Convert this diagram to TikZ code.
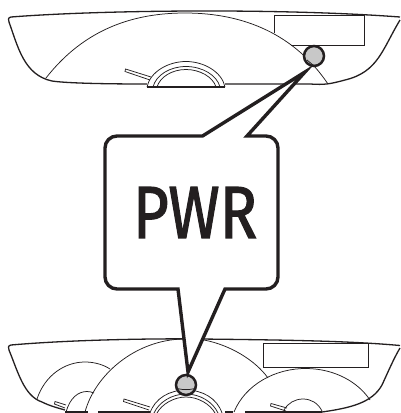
\documentclass[tikz,border=0pt]{standalone}
\usepackage{fontspec}
\setmainfont{Fira Sans}
\definecolor{ink}{HTML}{231F20}
\definecolor{btn}{HTML}{C8C8C8}
\tikzset{
  thinl/.style={draw=ink,line width=0.75pt},
  outl/.style={draw=ink,line width=1.3pt},
  btnc/.style={draw=ink,line width=2.5pt,fill=btn},
  bubble/.style={draw=ink,line width=3.4pt,fill=white,line join=miter}
}
\begin{document}
\begin{tikzpicture}[x=1pt,y=-1pt]
\useasboundingbox (0,0) rectangle (400,413);
% upper panel
\draw[outl] (11,17) .. controls (100,10) and (280,8) .. (400,17);
\draw[outl] (11,17) .. controls (8,17.5) and (8,20) .. (9,22) .. controls (18,47) and (24,75) .. (52,81)
  .. controls (65,83) and (100,84) .. (147,84);
\draw[outl] (225,84) -- (310,84) .. controls (325,85) and (330,84) .. (345,80)
  .. controls (378,72) and (382,50) .. (400,20);
\draw[thinl] (46,78) .. controls (85,28) and (135,13) .. (185,13) .. controls (245,13) and (295,35) .. (328,84);
\draw[thinl] (274,33) -- (274,15) -- (364,15) -- (364,45) -- (291,45);
\draw[btnc] (314,56) circle (10);
\draw[thinl] (307,60) -- (313,65);
% upper gauge
\draw[outl] (147,87) -- (225,87);
\draw[thinl] (147,87) .. controls (150,72) and (168,61.5) .. (186,61.5) .. controls (204,61.5) and (222,72) .. (225,87);
\draw[thinl] (153,87) .. controls (156,75) and (170,66.5) .. (186,66.5) .. controls (202,66.5) and (217,75) .. (220,87);
\draw[thinl] (157,87) .. controls (160,77) and (172,69.5) .. (186,69.5) .. controls (200,69.5) and (213,77) .. (216,87);
\draw[thinl] (151,77) -- (125.5,69) -- (125,71.5) -- (150,80);
% lower panel
\draw[outl] (11,345) .. controls (80,339) and (170,338.5) .. (200,339) .. controls (290,340) and (350,341) .. (400,345.5);
\draw[outl] (11,345) .. controls (8,345.5) and (8,348) .. (9,350) .. controls (18,372) and (24,396) .. (42,402)
  .. controls (50,406) and (58,408) .. (65,410);
\draw[outl] (322,412) .. controls (350,408) and (372,403) .. (382,385) .. controls (388,372) and (394,358) .. (400,348);
\draw[outl] (65,412) -- (88,412);
\draw[outl] (98,412) -- (150,412);
\draw[outl] (225,412) -- (233,412);
\draw[outl] (245,412) -- (285,412);
\draw[outl] (285,412) -- (322,412);
\draw[thinl] (85,412) .. controls (95,375) and (135,340) .. (183,339);
\draw[thinl] (204,340) .. controls (230,345) and (255,360) .. (268,378);
\draw[thinl] (37,399) .. controls (45,375) and (65,362) .. (85,362) .. controls (95,362) and (104,365) .. (110,369);
\draw[thinl] (66,412) .. controls (70,398) and (78,391.5) .. (87,391.5) .. controls (89,391.5) and (92,392) .. (94,393);
\draw[thinl] (234,412) .. controls (245,385) and (275,368) .. (307,368.5) .. controls (335,369) and (358,382) .. (370,400);
\draw[thinl] (284,410) .. controls (288,403) and (295,399) .. (303,399) .. controls (311,399) and (318,403) .. (322,411);
\draw[thinl] (263,343) rectangle (368,367);
\draw[thinl] (66,405) -- (55,401.5) -- (54.5,404) -- (65,408);
\draw[thinl] (150,407) -- (124,399) -- (123.5,401.5) -- (149,410);
\draw[thinl] (287,408) -- (271,403.5) -- (270.5,406) -- (286,411);
% lower centre gauge
\draw[thinl] (150,413) .. controls (155,398) and (170,390) .. (186,390) .. controls (202,390) and (217,398) .. (222,413);
\draw[thinl] (154,413) .. controls (159,402) and (172,394) .. (186,394) .. controls (200,394) and (213,402) .. (218,413);
\draw[thinl] (157,413) .. controls (162,404) and (174,397) .. (186,397) .. controls (198,397) and (210,404) .. (215,413);
\draw[btnc] (186,385) circle (10);
\draw[thinl] (177,388.5) .. controls (183,390) and (189,390) .. (195,388.5);
% bubble
\draw[bubble] (202.5,136) -- (305,72) -- (247,136) -- (266,136)
  arc[start angle=-90,end angle=0,radius=12] -- (278,277)
  arc[start angle=0,end angle=90,radius=12] -- (225,289) -- (188,372) -- (178,289) -- (117,289)
  arc[start angle=90,end angle=180,radius=12] -- (105,148)
  arc[start angle=180,end angle=270,radius=12] -- cycle;
\node[text=ink,inner sep=0pt,font=\fontsize{74}{74}\selectfont\addfontfeature{FakeBold=1.6},xscale=0.84] (pwr) at (195,212.5) {PWR};
\end{tikzpicture}
\end{document}
